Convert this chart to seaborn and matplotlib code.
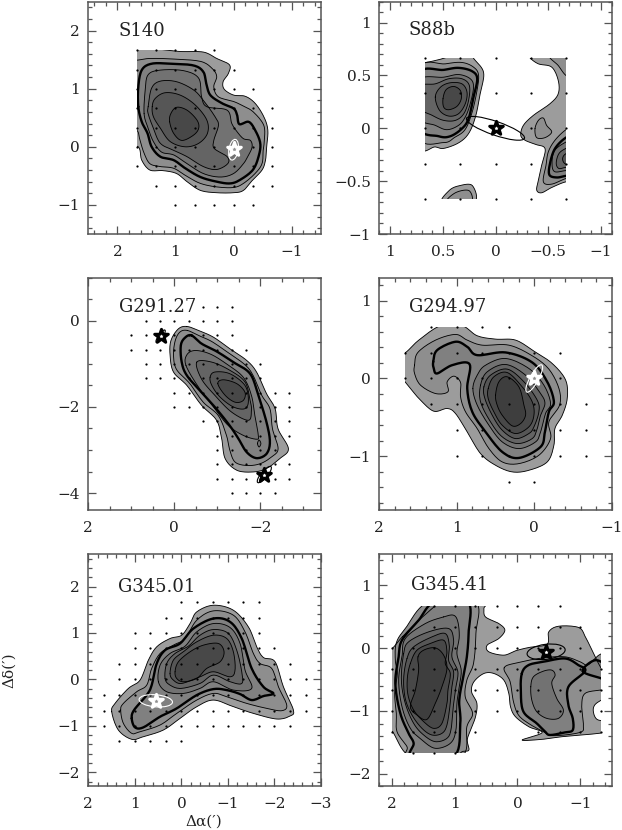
import numpy as np
import matplotlib
matplotlib.use("Agg")
import matplotlib.pyplot as plt
from matplotlib.patches import Ellipse, Rectangle
import seaborn as sns

sns.set_theme(style="ticks")
plt.rcParams['font.family'] = ['DejaVu Serif', 'DejaVu Sans']

# grey for each contour level, lowest first
LEVEL_GREYS = ['#9c9c9c', '#8e8e8e', '#808080', '#727272', '#646464', '#565656', '#484848', '#3e3e3e']
THICK_LEVEL = 2
FRAME = '#555555'

# ---- S140 ----
S140_OUTLINES = [
    (0, [(1.9,1.7),(1.32,1.68),(.92,1.64),(.52,1.63),(.29,1.52),(.07,1.41),(.09,1.26),(.18,1.12),(.16,.99),(0,.89),(-.20,.87),(-.37,.75),(-.52,.52),(-.59,.29),(-.57,0),(-.55,-.23),(-.49,-.40),(-.33,-.57),(-.17,-.75),(0,-.79),(.29,-.79),(.57,-.75),(.80,-.60),(.98,-.46),(1.21,-.41),(1.44,-.40),(1.58,-.23),(1.64,0),(1.9,.11)]),
    (1, [(1.9,1.49),(1.67,1.49),(1.44,1.52),(1.03,1.51),(.57,1.47),(.37,1.35),(.29,1.21),(.34,1.03),(.26,.86),(0,.78),(-.17,.70),(-.34,.60),(-.52,.37),(-.53,.11),(-.51,-.06),(-.49,-.29),(-.37,-.46),(-.17,-.63),(0,-.70),(.29,-.69),(.57,-.63),(.80,-.51),(1.03,-.37),(1.26,-.34),(1.44,-.29),(1.54,-.11),(1.61,.11),(1.67,.29),(1.9,.34)]),
    (2, [(1.64,.69),(1.64,1.03),(1.58,1.32),(1.41,1.43),(1.09,1.43),(.69,1.40),(.52,1.29),(.47,1.09),(.40,.89),(.20,.75),(0,.66),(-.06,.55),(-.10,.39),(-.26,.43),(-.37,.29),(-.46,.06),(-.43,-.17),(-.33,-.40),(-.11,-.57),(.06,-.63),(.29,-.60),(.57,-.52),(.83,-.37),(1.03,-.23),(1.26,-.17),(1.41,0),(1.48,.23),(1.58,.43)]),
    (3, [(1.54,.57),(1.52,.98),(1.47,1.24),(1.26,1.32),(.86,1.31),(.60,1.18),(.55,.86),(.46,.69),(.11,.63),(.03,.40),(-.06,.26),(-.17,.14),(-.29,.11),(-.32,0),(-.26,-.14),(-.17,-.29),(0,-.46),(.23,-.52),(.52,-.46),(.80,-.29),(1.03,-.14),(1.24,-.09),(1.38,.09),(1.47,.32)]),
    (4, [(1.47,.69),(1.41,1.01),(1.26,1.13),(.98,1.12),(.69,.98),(.52,.80),(.32,.52),(.26,.37),(.34,.11),(.33,-.03),(.11,-.17),(.10,-.29),(.29,-.39),(.52,-.34),(.80,-.17),(1.03,-.06),(1.26,.06),(1.38,.32),(1.47,.57)]),
    (5, [(1.40,.69),(1.35,.83),(1.18,.93),(.92,.89),(.66,.72),(.46,.46),(.45,.23),(.60,.06),(.83,0),(1.09,.09),(1.26,.32),(1.38,.52)]),
    (6, [(1.10,.43),(1.08,.57),(.98,.68),(.80,.63),(.63,.46),(.60,.32),(.69,.20),(.89,.11),(1.03,.23)]),
]
S140_DOTS = [
    (1.67, [1.67,1.33,1,.67,.33]),
    (1.33, [1.67,1.33,1,.67,.33,0]),
    (1, [1.67,1.33,1,.67,.33,0,-.33]),
    (.67, [1.67,1.33,1,.67,.33,0,-.33,-.67]),
    (.33, [1.67,1.33,1,.67,.33,0,-.33,-.67]),
    (0, [1.67,1.33,1,.67,.33,0,-.33,-.67]),
    (-.33, [1.67,1.33,1,.67,.33,0,-.33,-.67]),
    (-.67, [1.33,1,.67,.33,0,-.33,-.67]),
    (-1, [1,.67,.33,0,-.33]),
]

# ---- S88b ----
S88B_OUTLINES = [
    (0, [(.73,.61),(.667,.62),(.52,.654),(.40,.69),(.21,.72),(.21,.667),(.113,.53),(.145,.327),(.19,.107),(.255,-.05),(.35,-.138),(.49,-.19),(.57,-.176),(.73,-.154)]),
    (1, [(.73,.563),(.475,.61),(.318,.623),(.208,.579),(.16,.5),(.182,.32),(.228,.13),(.29,-.015),(.385,-.085),(.49,-.135),(.73,-.08)]),
    (2, [(.73,.516),(.49,.553),(.35,.572),(.223,.541),(.173,.469),(.208,.296),(.255,.091),(.318,-.003),(.428,-.075),(.538,-.075),(.73,.013)]),
    (3, [(.73,.453),(.49,.484),(.35,.509),(.239,.469),(.208,.39),(.239,.233),(.286,.107),(.35,.028),(.46,-.013),(.57,.028),(.73,.107)]),
    (4, [(.73,.396),(.57,.421),(.443,.469),(.318,.469),(.248,.406),(.255,.264),(.30,.138),(.38,.075),(.49,.075),(.60,.123),(.73,.201)]),
    (5, [(.57,.296),(.52,.39),(.428,.431),(.318,.421),(.27,.343),(.286,.233),(.35,.138),(.443,.116),(.53,.17)]),
    (6, [(.497,.28),(.468,.365),(.396,.396),(.333,.358),(.324,.28),(.365,.208),(.443,.176),(.49,.20)]),
    # patch at the bottom
    (0, [(.50,-.70),(.44,-.59),(.346,-.544),(.22,-.541),(.20,-.695)]),
    (1, [(.46,-.70),(.38,-.61),(.25,-.59),(.235,-.70)]),
    # right side
    (0, [(-.327,.704),(-.327,.667),(-.406,.61),(-.532,.579),(-.594,.453),(-.594,.327),(-.516,.233),(-.359,.123),(-.264,.028),(-.239,-.066),(-.28,-.113),(-.374,-.151),(-.469,-.192),(-.437,-.349),(-.406,-.491),(-.39,-.585),(-.437,-.61),(-.532,-.56),(-.667,-.506),(-.767,-.506),(-.767,.704)]),
    (1, [(-.516,.689),(-.594,.594),(-.667,.5),(-.767,.453),(-.767,.704)]),
    (1, [(-.374,-.003),(-.406,.075),(-.453,.097),(-.484,.028),(-.532,-.035),(-.469,-.088),(-.39,-.088)]),
    (1, [(-.767,.028),(-.667,-.013),(-.563,-.113),(-.5,-.223),(-.478,-.349),(-.453,-.506),(-.532,-.528),(-.667,-.475),(-.767,-.46)]),
    (2, [(-.767,-.066),(-.667,-.088),(-.563,-.192),(-.516,-.333),(-.51,-.44),(-.58,-.465),(-.667,-.45),(-.767,-.44)]),
    (3, [(-.767,-.10),(-.667,-.13),(-.56,-.21),(-.535,-.33),(-.56,-.41),(-.667,-.40),(-.767,-.40)]),
    (4, [(-.767,-.155),(-.667,-.19),(-.60,-.24),(-.575,-.33),(-.60,-.38),(-.667,-.37),(-.767,-.37)]),
    (5, [(-.767,-.22),(-.667,-.24),(-.635,-.29),(-.667,-.34),(-.767,-.34)]),
]
S88B_DOTS = [
    (.667, [.667,.333,0,-.333,-.667]),
    (.333, [.667,.333,0,-.333,-.667]),
    (0, [.667,.333,0,-.333,-.667]),
    (-.333, [.667,.333,0,-.333,-.667]),
    (-.667, [.667,.333,0,-.333,-.667]),
]

# ---- G291.27 ----
G291_OUTLINES = [
    (0, [(-.286,-.131),(-.557,-.224),(-.905,-.379),(-1.29,-.65),(-1.68,-.92),(-1.91,-1.19),(-2.14,-1.69),(-2.34,-2.04),(-2.41,-2.51),(-2.65,-2.97),(-2.45,-3.20),(-2.14,-3.43),(-1.83,-3.51),(-1.45,-3.47),(-1.18,-3.20),(-1.10,-2.74),(-.98,-2.31),(-.63,-1.96),(-.29,-1.50),(.02,-1.19),(.10,-.80),(.08,-.46),(-.09,-.19)]),
    (1, [(-.30,-.224),(-.557,-.34),(-.866,-.48),(-1.25,-.74),(-1.64,-1.02),(-1.83,-1.27),(-2.03,-1.73),(-2.22,-2.04),(-2.28,-2.51),(-2.41,-2.97),(-2.26,-3.16),(-1.99,-3.32),(-1.68,-3.36),(-1.41,-3.28),(-1.29,-3.01),(-1.21,-2.66),(-1.02,-2.20),(-.67,-1.89),(-.36,-1.46),(-.05,-1.13),(.02,-.80),(-.02,-.46),(-.13,-.26)]),
    (2, [(-.40,-.34),(-.63,-.53),(-.98,-.71),(-1.37,-.96),(-1.76,-1.23),(-1.95,-1.73),(-2.14,-2.35),(-2.22,-2.81),(-2.14,-3.09),(-1.91,-3.19),(-1.68,-3.05),(-1.49,-2.74),(-1.29,-2.44),(-.98,-2.05),(-.63,-1.66),(-.29,-1.27),(-.17,-.96),(-.15,-.57),(-.25,-.39)]),
    (3, [(-.27,-1.04),(-.29,-.79),(-.48,-.69),(-.83,-.77),(-1.21,-1.0),(-1.60,-1.31),(-1.79,-1.73),(-1.87,-2.20),(-1.95,-2.66),(-1.91,-2.75),(-1.60,-2.66),(-1.25,-2.43),(-.94,-2.04),(-.56,-1.54)]),
    (3, [(-1.93,-2.85),(-1.97,-2.77),(-2.01,-2.85),(-1.97,-2.93)]),
    (4, [(-.52,-.96),(-.87,-.96),(-1.29,-1.15),(-1.64,-1.42),(-1.76,-1.85),(-1.79,-2.08),(-1.72,-2.31),(-1.33,-2.12),(-.94,-1.73),(-.63,-1.35)]),
    (5, [(-.83,-1.31),(-.94,-1.19),(-1.29,-1.23),(-1.64,-1.50),(-1.72,-1.85),(-1.64,-2.04),(-1.37,-2.0),(-1.06,-1.77),(-.87,-1.50)]),
    (6, [(-1.01,-1.46),(-1.14,-1.37),(-1.45,-1.46),(-1.64,-1.66),(-1.60,-1.85),(-1.41,-1.89),(-1.18,-1.73)]),
]
G291_DOTS = [
    (.33, [-.67,-1,-1.33]),
    (0, [.67,.33,0,-.33,-.67,-1,-1.33]),
    (-.33, [1,.67,.33,0,-.33,-.67,-1,-1.33]),
    (-.67, [1,.67,.33,0,-.33,-.67,-1,-1.33,-1.67]),
    (-1, [.67,.33,0,-.33,-.67,-1,-1.33,-1.67,-2]),
    (-1.33, [.67,.33,0,-.33,-.67,-1,-1.33,-1.67,-2]),
    (-1.67, [0,-.33,-.67,-1,-1.33,-1.67,-2,-2.33,-2.67]),
    (-2, [0,-.33,-.67,-1,-1.33,-1.67,-2,-2.33,-2.67]),
    (-2.33, [-.67,-1,-1.33,-1.67,-2,-2.33,-2.67]),
    (-2.67, [-1,-1.33,-1.67,-2,-2.33,-2.67]),
    (-3, [-1,-1.33,-1.67,-2,-2.33]),
    (-3.33, [-1,-1.33,-1.67,-2,-2.33,-2.67]),
    (-3.67, [-1,-1.33,-1.67,-2,-2.33,-2.67]),
    (-4, [-1.33,-1.67,-2,-2.33]),
]

# ---- G294.97 ----
G294_OUTLINES = [
    (0, [(1.66,.336),(1.49,.495),(1.21,.68),(.93,.68),(.736,.551),(.50,.508),(.241,.495),(.004,.353),(-.232,.194),(-.405,-.02),(-.426,-.258),(-.362,-.474),(-.267,-.646),(-.254,-.861),(-.168,-1.076),(.069,-1.184),(.284,-1.205),(.50,-1.119),(.693,-.969),(.865,-.689),(1.016,-.452),(1.124,-.387),(1.296,-.422),(1.468,-.28),(1.597,-.129),(1.705,.009),(1.79,.172),(1.748,.336)]),
    (1, [(1.545,.172),(1.502,.336),(1.274,.495),(1.016,.568),(.865,.495),(.672,.43),(.327,.43),(.026,.293),(-.189,.121),(-.319,-.129),(-.327,-.344),(-.189,-.56),(-.211,-.775),(-.06,-.99),(.198,-1.098),(.413,-1.076),(.585,-.904),(.736,-.646),(.887,-.43),(.951,-.237),(.951,-.052),(1.037,.03),(1.124,-.043),(1.115,-.172),(1.274,-.194),(1.468,-.086),(1.545,.065)]),
    (2, [(1.304,.215),(1.253,.366),(1.016,.474),(.865,.409),(.736,.301),(.37,.336),(.026,.207),(-.168,-.043),(-.254,-.301),(-.189,-.43),(-.138,-.689),(-.082,-.882),(.198,-1.025),(.413,-.947),(.628,-.689),(.80,-.43),(.865,-.129),(.835,.185),(1.059,.172),(1.253,.065),(1.296,.129)]),
    (3, [(.792,-.129),(.736,.043),(.628,.172),(.37,.258),(.069,.129),(-.125,-.086),(-.211,-.323),(-.146,-.452),(-.082,-.689),(-.017,-.818),(.198,-.904),(.413,-.818),(.585,-.603),(.736,-.344)]),
    (4, [(.693,-.086),(.607,.086),(.37,.181),(.112,.043),(-.082,-.194),(-.138,-.323),(-.082,-.474),(-.039,-.646),(.026,-.775),(.22,-.839),(.413,-.753),(.564,-.56),(.693,-.301)]),
    (5, [(.65,-.108),(.564,.043),(.349,.121),(.133,-.043),(-.039,-.28),(-.06,-.43),(.004,-.624),(.069,-.71),(.241,-.775),(.413,-.667),(.542,-.474),(.637,-.258)]),
    (6, [(.594,-.129),(.521,.022),(.349,.077),(.155,-.108),(.026,-.301),(.004,-.474),(.069,-.624),(.241,-.71),(.413,-.603),(.521,-.43),(.594,-.258)]),
    (7, [(.499,-.215),(.456,-.043),(.349,.022),(.198,-.108),(.133,-.344),(.112,-.474),(.176,-.581),(.284,-.611),(.413,-.474),(.478,-.344)]),
]
G294_DOTS = [
    (.667, [1.33,1,.67,.33]),
    (.333, [1.67,1.33,1,.67,.33,0,-.33]),
    (0, [1.67,1.33,1,.67,.33,0,-.33]),
    (-.333, [1.33,1,.67,.33,0,-.33,-.67]),
    (-.667, [1,.67,.33,0,-.33,-.67]),
    (-1, [1,.67,.33,0,-.33,-.67]),
    (-1.333, [.33,0]),
]

# ---- G345.01 ----
G345A_OUTLINES = [
    (0, [(1.497,-.695),(1.425,-.516),(1.139,-.193),(.888,-.014),(.709,.415),(.53,.702),(.244,.881),(-.007,.953),(-.186,1.203),(-.33,1.454),(-.688,1.597),(-1.117,1.49),(-1.44,1.132),(-1.619,.702),(-1.762,.473),(-2.013,.38),(-2.192,-.158),(-2.407,-.659),(-2.335,-.788),(-2.049,-.852),(-1.547,-.731),(-1.117,-.587),(-.688,-.444),(-.33,-.587),(.029,-.838),(.387,-1.089),(.817,-1.232),(1.067,-1.289),(1.354,-1.089)]),
    (1, [(1.304,-.659),(1.246,-.516),(.96,-.265),(.745,-.122),(.638,.236),(.458,.559),(.172,.738),(-.079,.881),(-.33,1.275),(-.688,1.476),(-1.117,1.383),(-1.368,1.024),(-1.547,.559),(-1.691,.344),(-1.941,.236),(-2.085,-.158),(-2.264,-.552),(-2.156,-.673),(-1.834,-.623),(-1.404,-.516),(-.974,-.372),(-.688,-.301),(-.33,-.444),(.1,-.731),(.458,-.981),(.888,-1.125),(1.067,-1.16),(1.246,-.946)]),
    (2, [(1.067,-.838),(1.017,-.659),(.745,-.337),(.638,-.122),(.53,.344),(.351,.63),(.029,.774),(-.258,1.096),(-.688,1.311),(-1.046,1.239),(-1.297,.881),(-1.511,.236),(-1.762,-.158),(-1.977,-.301),(-1.762,-.358),(-1.511,-.444),(-1.261,-.315),(-.974,-.229),(-.688,-.208),(-.33,-.337),(.1,-.623),(.458,-.802),(.817,-1.032),(.996,-1.032)]),
    (3, [(.494,-.05),(.458,.308),(.244,.559),(-.079,.716),(-.33,1.024),(-.688,1.203),(-1.046,1.117),(-1.261,.774),(-1.368,.201),(-1.511,-.193),(-1.117,-.229),(-.688,-.05),(-.401,-.193),(-.043,-.301),(.315,-.265)]),
    (4, [(.351,.021),(.315,.344),(.136,.559),(-.15,.716),(-.401,.953),(-.688,1.074),(-1.01,.989),(-1.189,.63),(-1.297,.165),(-1.297,-.086),(-1.046,-.05),(-.688,.093),(-.401,-.086),(.007,-.193),(.244,-.122)]),
    (5, [(.244,.129),(.172,.415),(-.043,.595),(-.33,.81),(-.688,.953),(-.974,.881),(-1.117,.595),(-1.153,.201),(-1.046,.057),(-.688,.165),(-.401,.057),(-.007,-.086),(.172,-.014)]),
    (6, [(.136,.165),(.064,.38),(-.186,.595),(-.473,.738),(-.795,.774),(-.917,.595),(-.831,.38),(-.544,.236),(-.33,.021),(-.043,-.05),(.1,.021)]),
]
G345A_DOTS = [
    (1.67, [0,-.33,-.67,-1,-1.33,-1.67]),
    (1.33, [.33,0,-.33,-.67,-1,-1.33,-1.67]),
    (1, [1,.67,.33,0,-.33,-.67,-1,-1.33,-1.67]),
    (.67, [1,.67,.33,0,-.33,-.67,-1,-1.33,-1.67,-2]),
    (.33, [1.33,1,.67,.33,0,-.33,-.67,-1,-1.33,-1.67,-2,-2.33]),
    (0, [1.33,1,.67,.33,0,-.33,-.67,-1,-1.33,-1.67,-2,-2.33,-2.67]),
    (-.33, [1.67,1.33,1,.67,.33,0,-.33,-.67,-1,-1.33,-1.67,-2,-2.33,-2.67]),
    (-.67, [1.67,1.33,1,.67,.33,0,-.33,-.67,-1,-1.33,-1.67,-2,-2.33,-2.67]),
    (-1, [1.67,1.33,1,.67,.33,0,-.33,-.67,-1,-1.33,-1.67,-2,-2.33]),
    (-1.33, [1.33,1,.67,.33,0]),
]

# ---- G345.41 ----
G345B_OUTLINES = [
    (0, [(1.834,.18),(1.569,.445),(1.33,.657),(1.251,.737),(.535,.737),(.535,.631),(.509,.498),(.297,.392),(.201,.286),(.297,.154),(.482,.048),(.456,-.058),(.217,-.111),(.032,-.042),(-.18,.011),(-.472,.064),(-.498,.26),(-.657,.35),(-.975,.329),(-1.081,.18),(-1.161,.021),(-1.335,-.323),(-1.452,-.403),(-1.452,-.774),(-1.335,-.827),(-1.229,-.906),(-1.208,-1.012),(-1.267,-1.134),(-1.452,-1.187),(-1.452,-1.33),(-.71,-1.41),(-.392,-1.452),(-.074,-1.463),(-.392,-1.346),(-.18,-1.251),(.032,-1.092),(.111,-.933),(.138,-.721),(.217,-.509),(.376,-.403),(.535,-.403),(.694,-.535),(.731,-.694),(.646,-.88),(.668,-1.092),(.747,-1.304),(.80,-1.463),(.774,-1.622),(.88,-1.648),(1.039,-1.728),(1.70,-1.73),(1.99,-1.33),(2.1,-1.25),(2.1,-.05),(1.99,0)]),
    (1, [(.896,-1.728),(.806,-1.251),(.715,-1.039),(.832,-.774),(.806,-.509),(.70,-.244),(.662,.233),(.673,.737),(1.415,.737),(1.786,.313),(1.929,.085),(1.945,-.191),(1.913,-.403),(1.955,-.721),(1.929,-1.039),(1.918,-1.33),(1.759,-1.569),(1.722,-1.728)]),
    (1, [(.212,-.313),(-.016,-.228),(-.413,-.154),(-.758,-.138),(-.996,-.217),(-1.113,-.27),(-1.235,-.164),(-1.314,-.101),(-1.473,-.058),(-1.473,-.652),(-1.314,-.668),(-1.076,-.721),(-1.023,-.906),(-1.049,-1.224),(-.996,-1.341),(-.572,-1.394),(-.413,-1.33),(-.175,-1.198),(-.016,-1.065),(.064,-.853),(.117,-.535)]),
    (2, [(1.017,-1.728),(.911,-1.198),(.927,-.827),(.858,-.429),(.806,-.138),(.779,.233),(.79,.737),(1.32,.737),(1.574,.445),(1.839,.127),(1.892,-.138),(1.945,-.562),(1.865,-1.039),(1.733,-1.357),(1.653,-1.516),(1.68,-1.728)]),
    (2, [(-.069,-.403),(-.175,-.27),(-.413,-.217),(-.758,-.164),(-.97,-.27),(-1.076,-.366),(-.811,-.615),(-.811,-.906),(-.88,-1.118),(-.88,-1.304),(-.758,-1.341),(-.519,-1.383),(-.44,-1.33),(-.307,-1.198),(-.095,-1.012),(-.053,-.694)]),
    (2, [(-1.039,-.366),(-1.24,-.191),(-1.452,-.323),(-1.452,-.535),(-1.335,-.482)]),
    (3, [(1.176,.498),(1.017,.525),(.949,.419),(.927,.18),(.964,-.085),(.896,-.35),(.927,-.615),(.964,-.88),(.98,-1.304),(1.07,-1.516),(1.309,-1.595),(1.521,-1.463),(1.706,-1.277),(1.839,-.933),(1.892,-.509),(1.839,-.138),(1.786,.154),(1.468,.392)]),
    (3, [(-.212,-.615),(-.254,-.456),(-.413,-.366),(-.546,-.35),(-.599,-.429),(-.546,-.562),(-.625,-.80),(-.731,-.986),(-.652,-1.118),(-.466,-1.118),(-.307,-1.012),(-.228,-.827)]),
    (4, [(1.812,-.085),(1.733,.101),(1.415,.26),(1.097,.313),(1.017,.127),(1.044,-.138),(.949,-.376),(.98,-.615),(1.017,-.88),(1.055,-1.277),(1.123,-1.436),(1.309,-1.489),(1.494,-1.383),(1.653,-1.198),(1.786,-.88),(1.849,-.509)]),
    (5, [(1.759,-.164),(1.653,.021),(1.362,.18),(1.15,.233),(1.086,.048),(1.097,-.191),(1.017,-.376),(1.044,-.615),(1.07,-.88),(1.123,-1.224),(1.203,-1.357),(1.362,-1.383),(1.521,-1.277),(1.68,-1.065),(1.786,-.806),(1.812,-.482)]),
    (6, [(1.706,-.244),(1.6,-.032),(1.388,.074),(1.176,.127),(1.123,-.058),(1.15,-.244),(1.07,-.403),(1.107,-.668),(1.123,-.88),(1.203,-1.198),(1.335,-1.277),(1.494,-1.17),(1.653,-.986),(1.743,-.747),(1.754,-.482)]),
    (7, [(1.584,-.138),(1.494,-.032),(1.309,.005),(1.176,-.111),(1.123,-.323),(1.203,-.615),(1.309,-.88),(1.441,-1.134),(1.6,-1.065),(1.706,-.933),(1.626,-.668),(1.574,-.35)]),
]
G345B_DOTS = [
    (.667, [1.33,1,.67,.33,0,-.33,-.67]),
    (.333, [1.33,1,.67,.33,0,-.33,-.67,-1]),
    (0, [2,1.67,1.33,1,.67,.33,0,-.33,-.67,-1]),
    (-.333, [2,1.67,1.33,1,.67,.33,0,-.33,-.67,-1,-1.33]),
    (-.667, [2,1.67,1.33,1,.67,.33,0,-.33,-.67,-1,-1.33]),
    (-1, [2,1.67,1.33,1,.67,.33,0,-.33,-.67,-1,-1.33]),
    (-1.333, [2,1.67,1.33,1,.67,-.33,-.67,-1,-1.33]),
    (-1.667, [1.67,1.33,1]),
]

# name, axes box in pixels (left, top, right, bottom), xlim, ylim, map extent,
# x ticks, x labels, x minor step, y ticks, y labels, y minor step
PANELS = [
    ("S140", (88.3, 1.5, 320.7, 234), (2.5, -1.5), (-1.5, 2.5), (-.8, 1.67, -1.2, 1.67),
     [2, 1, 0, -1], ["2", "1", "0", "\u22121"], .2, [2, 1, 0, -1], ["2", "1", "0", "\u22121"], .2,
     S140_OUTLINES, S140_DOTS, [(0, -.05, .36, .16, 100, 'white')], (1.98, 2.0)),
    ("S88b", (379.3, 1.5, 611.7, 234), (1.1, -1.1), (-1, 1.2), (-.667, .667, -.667, .667),
     [1, .5, 0, -.5, -1], ["1", "0.5", "0", "\u22120.5", "\u22121"], .1, [1, .5, 0, -.5, -1], ["1", "0.5", "0", "\u22120.5", "\u22121"], .1,
     S88B_OUTLINES, S88B_DOTS, [(0, 0, .58, .13, 19, 'black')], (.82, .93)),
    ("G291.27", (88.3, 277.7, 320.7, 510.3), (2, -3.4), (-4.4, 1), (-3.4, 2, -4.4, 1),
     [2, 0, -2], ["2", "0", "\u22122"], .5, [0, -2, -4], ["0", "\u22122", "\u22124"], .5,
     G291_OUTLINES, G291_DOTS, [(.32, -.36, .35, .1, 125, 'black'), (-2.09, -3.57, .48, .15, 130, 'black')], (1.29, .33)),
    ("G294.97", (379.3, 277.7, 611.7, 510.3), (2, -1), (-1.7, 1.3), (-1, 1.667, -1.5, .667),
     [2, 1, 0, -1], ["2", "1", "0", "\u22121"], .2, [1, 0, -1], ["1", "0", "\u22121"], .2,
     G294_OUTLINES, G294_DOTS, [(0, 0, .4, .11, 119, 'white')], (1.62, .92)),
    ("G345.01", (88.3, 554, 321, 786.3), (2, -3), (-2.3, 2.7), (-3, 2, -2.3, 2.7),
     [2, 1, 0, -1, -2, -3], ["2", "1", "0", "\u22121", "\u22122", "\u22123"], .2, [2, 1, 0, -1, -2], ["2", "1", "0", "\u22121", "\u22122"], .2,
     G345A_OUTLINES, G345A_DOTS, [(.55, -.46, .72, .26, 5, 'white')], (1.36, 2.0)),
    ("G345.41", (379.3, 554, 611.7, 786.3), (2.2, -1.5), (-2.2, 1.5), (-1.333, 2, -1.667, .667),
     [2, 1, 0, -1], ["2", "1", "0", "\u22121"], .2, [1, 0, -1, -2], ["1", "0", "\u22121", "\u22122"], .2,
     G345B_OUTLINES, G345B_DOTS, [(-.456, -.058, .61, .24, 173, 'black')], (1.7, 1.0)),
]

# star positions, one list per panel, same order as PANELS
STAR_XY = [
    [(0, -.03)],
    [(0, 0)],
    [(.32, -.36), (-2.09, -3.57)],
    [(0, 0)],
    [(.55, -.46)],
    [(-.456, -.058)],
]


def smooth(points, n=10):
    # closed Catmull-Rom through the read-off vertices
    p1 = np.array(points, dtype=float)
    p0 = np.roll(p1, 1, axis=0)
    p2 = np.roll(p1, -1, axis=0)
    p3 = np.roll(p1, -2, axis=0)
    t = np.linspace(0, 1, n, endpoint=False)[:, None, None]
    c = 0.5 * (2 * p1 + (p2 - p0) * t + (2 * p0 - 5 * p1 + 4 * p2 - p3) * t ** 2
               + (3 * p1 - p0 - 3 * p2 + p3) * t ** 3)
    c = c.transpose(1, 0, 2).reshape(-1, 2)
    return np.vstack([c, c[0]])


W, H = 622, 830
fig = plt.figure(figsize=(W / 100, H / 100), dpi=100)

for panel, stars in zip(PANELS, STAR_XY):
    name, box, xlim, ylim, extent, xt, xl, xminor, yt, yl, yminor, outlines, dots, ellipses, name_xy = panel
    left, top, right, bottom = box
    ax = fig.add_axes([left / W, 1 - bottom / H, (right - left) / W, (bottom - top) / H])
    ax.set_xlim(xlim)
    ax.set_ylim(ylim)

    clip = Rectangle((extent[0], extent[2]), extent[1] - extent[0], extent[3] - extent[2], transform=ax.transData)
    for level, points in sorted(outlines, key=lambda o: o[0]):
        xy = smooth(points)
        for poly in ax.fill(xy[:, 0], xy[:, 1], color=LEVEL_GREYS[level], lw=0, zorder=2):
            poly.set_clip_path(clip)
        lw = 1.7 if level == THICK_LEVEL else 0.62
        for line in ax.plot(xy[:, 0], xy[:, 1], color='black', lw=lw, zorder=3, solid_joinstyle='round'):
            line.set_clip_path(clip)

    # sampled positions
    dot_x = [x for y, row in dots for x in row]
    dot_y = [y for y, row in dots for x in row]
    sns.scatterplot(x=dot_x, y=dot_y, ax=ax, s=2.6, color='black', linewidth=0, zorder=4, legend=False)

    # beam ellipses and stars
    for ex, ey, ew, eh, ang, col in ellipses:
        ax.add_patch(Ellipse((ex, ey), ew, eh, angle=ang, fill=False, edgecolor=col, lw=0.8, zorder=5))
    edge, face = ('white', '#909090') if ellipses[0][5] == 'white' else ('black', 'white')
    sx = [s[0] for s in stars]
    sy = [s[1] for s in stars]
    sns.scatterplot(x=sx, y=sy, ax=ax, s=105, marker='*', color=face, edgecolor=edge,
                    linewidth=2.2, zorder=6, legend=False)

    ax.text(name_xy[0], name_xy[1], name, fontsize=13, color='#222222', va='center', ha='left', zorder=7)

    ax.set_xticks(xt, xl)
    ax.set_yticks(yt, yl)
    ax.xaxis.set_minor_locator(plt.MultipleLocator(xminor))
    ax.yaxis.set_minor_locator(plt.MultipleLocator(yminor))
    ax.tick_params(which='both', direction='in', top=True, right=True, color=FRAME, width=0.9)
    ax.tick_params(which='major', length=5.8, labelsize=11, labelcolor='#222222')
    ax.tick_params(axis='x', which='major', pad=8)
    ax.tick_params(axis='y', which='major', pad=6)
    ax.tick_params(which='minor', length=2.9)
    for spine in ax.spines.values():
        spine.set_color(FRAME)
        spine.set_linewidth(1.1)

fig.text(204 / W, 1 - 822 / H, "\u0394\u03b1(\u2032)", fontsize=11, color='#222222', ha='center', va='center')
fig.text(9 / W, 1 - 670 / H, "\u0394\u03b4(\u2032)", fontsize=11, color='#222222', ha='center', va='center', rotation=90)

fig.savefig("out.png", dpi=100)
